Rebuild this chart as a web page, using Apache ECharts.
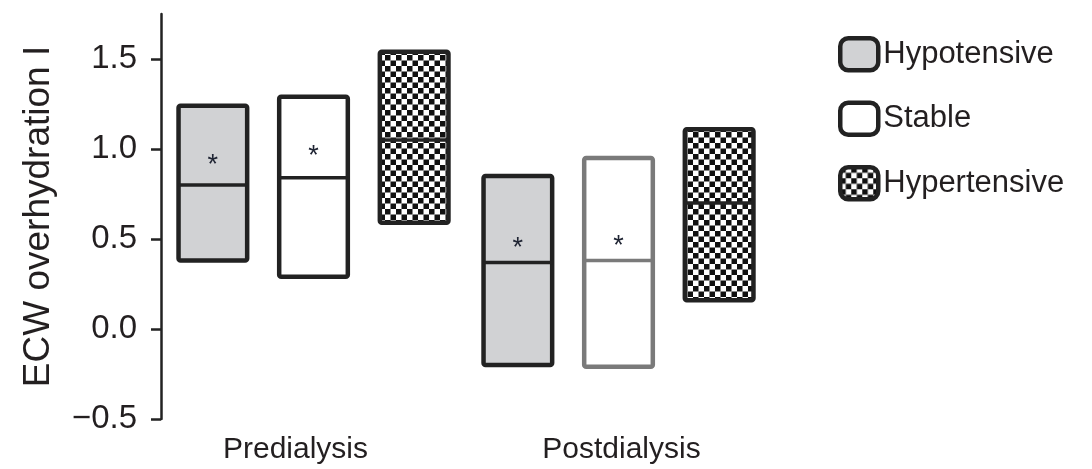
<!DOCTYPE html>
<html>
<head>
<meta charset="utf-8">
<script src="https://cdn.jsdelivr.net/npm/echarts@6/dist/echarts.min.js"></script>
<style>
html,body{margin:0;padding:0;background:#fff;}
#chart{width:1092px;height:469px;}
</style>
</head>
<body>
<div id="chart"></div>
<script>
// categories on the x axis
var categories = ['Predialysis', 'Postdialysis'];
var groups = ['Hypotensive', 'Stable', 'Hypertensive'];
var yTicks = [-0.5, 0, 0.5, 1.0, 1.5];

// box low / median / high per category
var hypoLow = [0.38, -0.20];
var hypoMed = [0.80, 0.37];
var hypoHigh = [1.24, 0.85];

var stableLow = [0.29, -0.21];
var stableMed = [0.84, 0.38];
var stableHigh = [1.29, 0.95];

var hyperLow = [0.59, 0.16];
var hyperMed = [1.05, 0.70];
var hyperHigh = [1.54, 1.11];

// asterisk positions (null = no asterisk)
var hypoStar = [0.94, 0.48];
var stableStar = [0.99, 0.49];
var hyperStar = [null, null];

var TXT = '#231f20';

// checker pattern for the hypertensive boxes
function makeChecker(){
	var c = document.createElement('canvas');
	var s = 5.5;
	c.width = 11; c.height = 11;
	var ctx = c.getContext('2d');
	ctx.fillStyle = '#fff';
	ctx.fillRect(0, 0, 11, 11);
	ctx.fillStyle = '#111';
	ctx.fillRect(0, 0, s, s);
	ctx.fillRect(s, s, s, s);
	return c;
}
var checker = {image: makeChecker(), repeat: 'repeat'};

function buildData(low, med, high, star){
	var arr = [];
	for(var i=0;i<categories.length;i++){
		arr.push([i, low[i], med[i], high[i], star[i] == null ? NaN : star[i]]);
	}
	return arr;
}

var fills = ['#d1d2d4', '#ffffff', checker];
var offsets = [-0.33, 0, 0.33];

function makeRender(gi){
	return function(params, api){
		var cat = api.value(0);
		var band = api.size([1, 0])[0];
		var cx = api.coord([cat, 0])[0] + offsets[gi]*band;
		var w = band*0.225;
		var yLow = api.coord([cat, api.value(1)])[1];
		var yMed = api.coord([cat, api.value(2)])[1];
		var yHigh = api.coord([cat, api.value(3)])[1];
		var stroke = (gi == 1 && cat == 1) ? '#7a7a7a' : '#222';
		var children = [
			{type:'rect', shape:{x:cx-w/2, y:yHigh, width:w, height:yLow-yHigh, r:2},
			 style:{fill:fills[gi], stroke:stroke, lineWidth:4.5, lineJoin:'round'}},
			{type:'line', shape:{x1:cx-w/2, y1:yMed, x2:cx+w/2, y2:yMed},
			 style:{stroke:stroke, lineWidth:3.5}}
		];
		var st = api.value(4);
		if(!isNaN(st)){
			var ys = api.coord([cat, st])[1];
			children.push({type:'text', style:{text:'*', x:cx, y:ys+6, align:'center', verticalAlign:'middle',
				fill:'#1f2433', font:'27px "Liberation Sans", Arial, sans-serif'}});
		}
		return {type:'group', children:children};
	};
}

var myChart = echarts.init(document.getElementById('chart'));
var option = {
	animation: false,
	textStyle: {fontFamily: '"Liberation Sans", Arial, sans-serif'},
	grid: {left:161, right:321, top:14, bottom:50},
	legend: {
		orient: 'vertical',
		left: 833,
		top: 31,
		itemWidth: 38,
		itemHeight: 32,
		itemGap: 28,
		textStyle: {fontSize:31, color:TXT},
		data: [
			{name:'Hypotensive', icon:'roundRect', itemStyle:{color:'#d1d2d4', borderColor:'#222', borderWidth:4.5}},
			{name:'Stable', icon:'roundRect', itemStyle:{color:'#fff', borderColor:'#222', borderWidth:4.5}},
			{name:'Hypertensive', icon:'roundRect', itemStyle:{color:checker, borderColor:'#222', borderWidth:4.5}}
		]
	},
	xAxis: {
		type: 'category',
		data: [
			{value:categories[0], textStyle:{padding:[0,36,0,0]}},
			{value:categories[1], textStyle:{padding:[0,0,0,6]}}
		],
		axisLine: {show:false},
		axisTick: {show:false},
		axisLabel: {fontSize:30, color:TXT, margin:16}
	},
	yAxis: {
		type: 'value',
		min: -0.5,
		max: 1.75,
		interval: 0.5,
		name: 'ECW overhydration I',
		nameLocation: 'middle',
		nameGap: 104,
		nameTextStyle: {fontSize:37, color:TXT},
		splitLine: {show:false},
		axisLine: {show:true, lineStyle:{color:'#222', width:2.5}},
		axisTick: {show:true, length:10, customValues:yTicks, lineStyle:{color:'#222', width:2.5}},
		axisLabel: {
			fontSize:33, color:TXT, margin:24, customValues:yTicks,
			formatter: function(v){ return (v < 0 ? '\u2212' : '') + Math.abs(v).toFixed(1); }
		}
	},
	series: [
		{name:groups[0], type:'custom', renderItem:makeRender(0), data:buildData(hypoLow, hypoMed, hypoHigh, hypoStar),
		 itemStyle:{color:'#d1d2d4', borderColor:'#222'}},
		{name:groups[1], type:'custom', renderItem:makeRender(1), data:buildData(stableLow, stableMed, stableHigh, stableStar),
		 itemStyle:{color:'#fff', borderColor:'#222'}},
		{name:groups[2], type:'custom', renderItem:makeRender(2), data:buildData(hyperLow, hyperMed, hyperHigh, hyperStar),
		 itemStyle:{color:checker, borderColor:'#222'}}
	]
};
myChart.setOption(option);
</script>
</body>
</html>
